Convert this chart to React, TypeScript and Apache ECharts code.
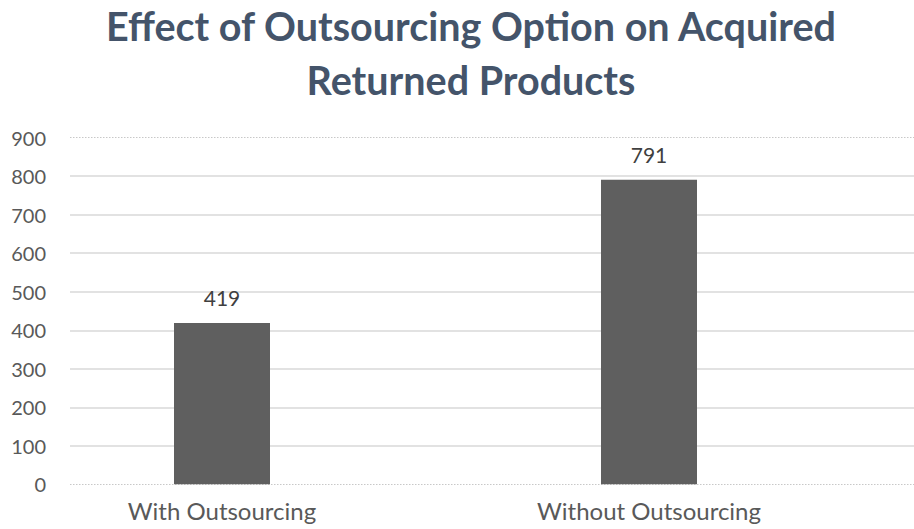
import React, { useEffect, useRef } from "react";
import * as echarts from "echarts";

const titleText = "Effect of Outsourcing Option on Acquired\nReturned Products";
const categories = ["With Outsourcing", "Without Outsourcing"];
const values = [419, 791];
const yMin = 0;
const yMax = 900;
const yInterval = 100;
const solidGridValues = [100, 200, 300, 400, 500, 600, 700, 800];
const dottedGridValues = [0, 900];

const FONT = "Lato";

export default function App() {
  const ref = useRef<HTMLDivElement>(null);
  useEffect(() => {
    if (!ref.current) return;
    const chart = echarts.init(ref.current, null, { renderer: "svg" });
    chart.setOption({
      animation: false,
      backgroundColor: "#ffffff",
      title: {
        text: titleText,
        left: 466,
        top: -7,
        textAlign: "center",
        textStyle: {
          fontFamily: FONT,
          fontSize: 39.5,
          fontWeight: "bold",
          color: "#44546A",
          lineHeight: 54,
        },
      },
      grid: [
        { left: 70, right: 0, top: 137.7, bottom: 44.7 },
        { left: 8.5, right: 51.5, top: 137.7, bottom: 44.7 },
      ],
      xAxis: [
        {
          gridIndex: 0,
          type: "value",
          min: 0,
          max: 1,
          show: false,
        },
        {
          gridIndex: 1,
          type: "category",
          data: categories,
          axisLine: { show: false },
          axisTick: { show: false },
          axisLabel: { color: "#595959", fontSize: 24, fontFamily: FONT, margin: 14 },
          splitLine: { show: false },
        },
      ],
      yAxis: [
        {
          gridIndex: 0,
          type: "value",
          min: yMin,
          max: yMax,
          interval: yInterval,
          axisLine: { show: false },
          axisTick: { show: false },
          axisLabel: { color: "#595959", fontSize: 20, fontFamily: FONT, margin: 24 },
          splitLine: { show: false },
        },
        {
          gridIndex: 1,
          type: "value",
          min: yMin,
          max: yMax,
          interval: yInterval,
          show: false,
        },
      ],
      series: [
        {
          type: "line",
          xAxisIndex: 0,
          yAxisIndex: 0,
          data: [[0, 0]],
          showSymbol: false,
          silent: true,
          lineStyle: { opacity: 0 },
          z: 0,
          markLine: {
            silent: true,
            symbol: "none",
            z: 0,
            label: { show: false },
            data: [
              ...solidGridValues.map((v) => ({
                yAxis: v,
                lineStyle: { color: "#d9d9d9", width: 1.5, type: "solid" },
              })),
              ...dottedGridValues.map((v) => ({
                yAxis: v,
                lineStyle: { color: "#c8c8c8", width: 1, type: [1.5, 1.5] },
              })),
            ],
          },
        },
        {
          type: "bar",
          xAxisIndex: 1,
          yAxisIndex: 1,
          data: values,
          barWidth: 96,
          itemStyle: { color: "#5f5f5f" },
          z: 10,
          label: {
            show: true,
            position: "top",
            distance: 15,
            color: "#404040",
            fontSize: 21,
            fontFamily: FONT,
          },
        },
      ],
    });
    return () => chart.dispose();
  }, []);
  return (
    <div
      ref={ref}
      style={{ position: "fixed", left: 0, top: 0, width: 914, height: 529 }}
    />
  );
}
